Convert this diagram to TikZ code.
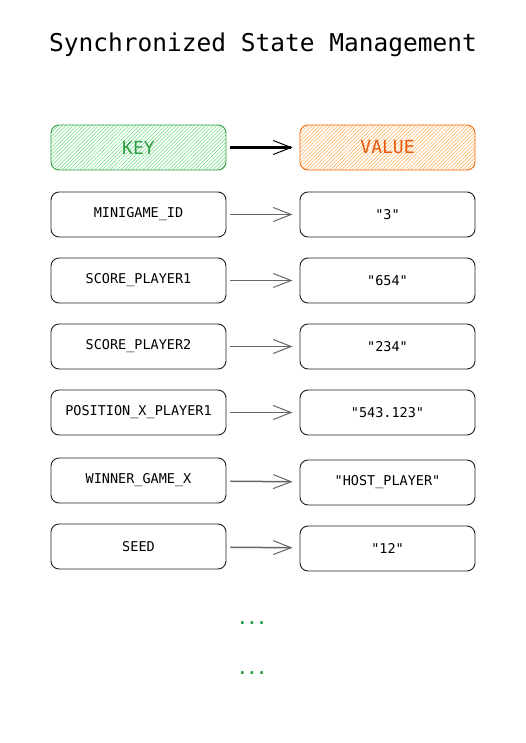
\documentclass[tikz,border=0pt]{standalone}
\usepackage{fontspec}
\setmonofont{DejaVu Sans Mono}
\usetikzlibrary{arrows.meta,patterns.meta}
\definecolor{keygreen}{HTML}{2F9E44}
\definecolor{keyfill}{HTML}{69DB7C}
\definecolor{valorange}{HTML}{F76707}
\definecolor{valtext}{HTML}{E8590C}
\definecolor{valfill}{HTML}{FFA94D}
\definecolor{ink}{HTML}{1E1E1E}
\begin{document}
\begin{tikzpicture}[x=1pt,y=-1pt,
		entry/.style={draw=ink, line width=0.9pt, rounded corners=8pt, minimum width=175pt, minimum height=45pt, inner sep=0pt, font=\ttfamily\fontsize{13.5}{16}\selectfont},
		keyhead/.style={entry, draw=keygreen, pattern={Lines[angle=45,distance=2.6pt,line width=0.5pt]}, pattern color=keyfill, text=keygreen, font=\ttfamily\fontsize{18}{22}\selectfont},
		valhead/.style={entry, draw=valorange, pattern={Lines[angle=45,distance=2.6pt,line width=0.5pt]}, pattern color=valfill, text=valtext, font=\ttfamily\fontsize{18}{22}\selectfont},
		maps/.style={draw=black!60, line width=1.5pt, -{Straight Barb[length=18pt,width=14pt,line width=1pt]}, shorten <=4pt, shorten >=7pt},
		more/.style={text=keygreen, font=\ttfamily\bfseries\fontsize{16}{18}\selectfont}]
		\useasboundingbox (0,0) rectangle (525,743);
		% title
		\node[font=\ttfamily\fontsize{24.5}{30}\selectfont] (title) at (263,45) {Synchronized State Management};
		% header row
		\node[keyhead] (key) at (138.5,147.5) {KEY};
		\node[valhead] (value) at (387.5,147.5) {VALUE};
		\draw[maps, draw=black, line width=2.2pt] (key) -- (value);
		% key -> value pairs
		\node[entry] (k1) at (138.5,214.5) {MINIGAME\_ID};
		\node[entry] (v1) at (387.5,214.5) {"3"};
		\node[entry] (k2) at (138.5,280.5) {SCORE\_PLAYER1};
		\node[entry] (v2) at (387.5,280.5) {"654"};
		\node[entry] (k3) at (138.5,346.5) {SCORE\_PLAYER2};
		\node[entry] (v3) at (387.5,346.5) {"234"};
		\node[entry] (k4) at (138.5,412.5) {POSITION\_X\_PLAYER1};
		\node[entry] (v4) at (387.5,412.5) {"543.123"};
		\node[entry] (k5) at (138.5,480.5) {WINNER\_GAME\_X};
		\node[entry] (v5) at (387.5,482.5) {"HOST\_PLAYER"};
		\node[entry] (k6) at (138.5,546.5) {SEED};
		\node[entry] (v6) at (387.5,548.5) {"12"};
		\draw[maps] (k1) -- (v1);
		\draw[maps] (k2) -- (v2);
		\draw[maps] (k3) -- (v3);
		\draw[maps] (k4) -- (v4);
		\draw[maps] (k5) -- (v5);
		\draw[maps] (k6) -- (v6);
		% more entries
		\node[more] (dotsA) at (252,623) {...};
		\node[more] (dotsB) at (252,673) {...};
\end{tikzpicture}
\end{document}
